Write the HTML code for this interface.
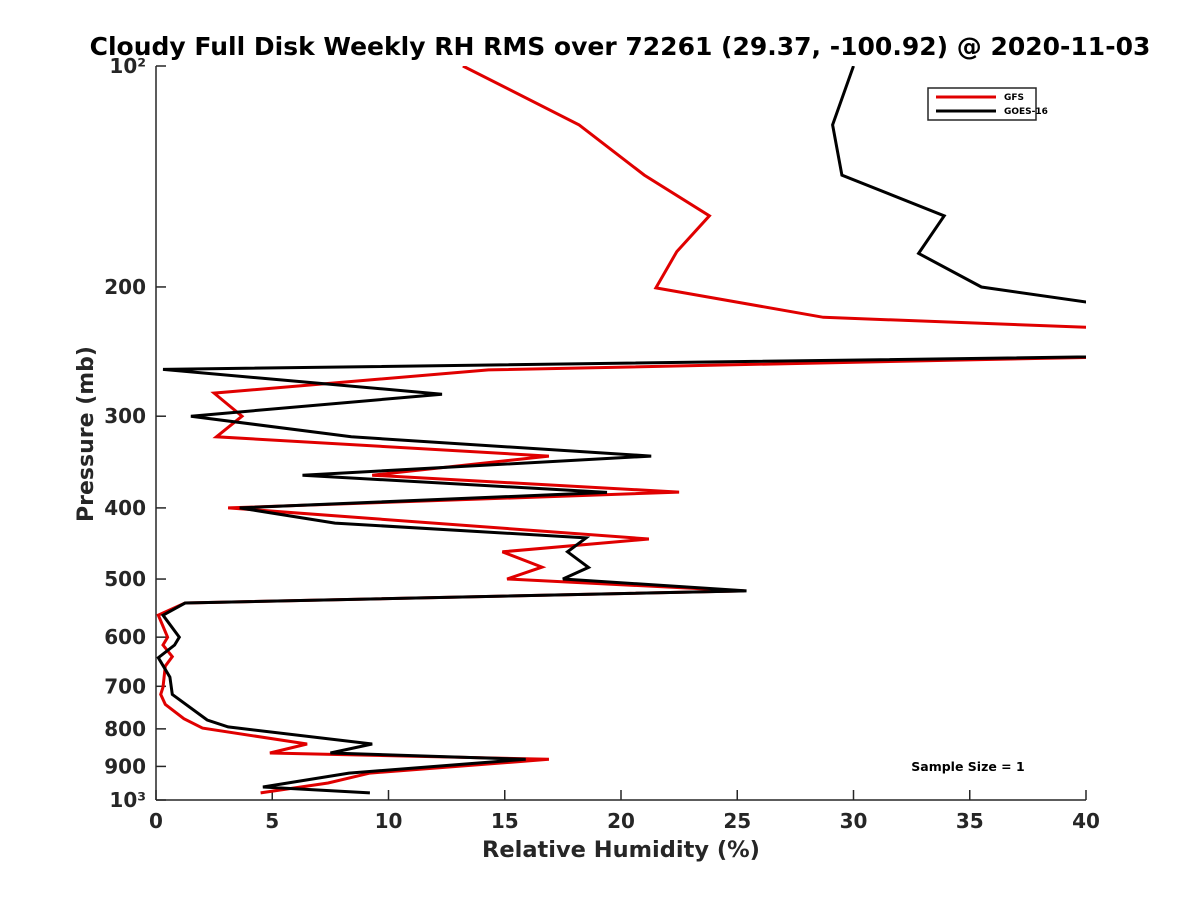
<!DOCTYPE html>
<html><head><meta charset="utf-8"><style>
body{margin:0;background:#fff}
svg text{font-family:"DejaVu Sans","Liberation Sans",sans-serif;font-weight:bold;fill:#262626}
</style></head><body>
<svg id="chart" width="1200" height="900" viewBox="0 0 1200 900" xmlns="http://www.w3.org/2000/svg">
<rect width="1200" height="900" fill="#fff"/>
<defs><clipPath id="plotclip"><rect x="156" y="66" width="930" height="734"/></clipPath></defs>
<text x="620" y="55" text-anchor="middle" font-size="25" style="fill:#000">Cloudy Full Disk Weekly RH RMS over 72261 (29.37, -100.92) @ 2020-11-03</text>
<g id="axes"></g>
<g id="series" clip-path="url(#plotclip)"></g>
<text x="621" y="857" text-anchor="middle" font-size="22.5">Relative Humidity (%)</text>
<text transform="translate(93,434) rotate(-90)" text-anchor="middle" font-size="22">Pressure (mb)</text>
<g>
<rect x="928" y="88" width="108" height="32" fill="#fff" stroke="#262626" stroke-width="1.5"/>
<line x1="936" y1="97" x2="996" y2="97" stroke="#e00000" stroke-width="3"/>
<text x="1004" y="100" font-size="9" style="fill:#000">GFS</text>
<line x1="936" y1="111" x2="996" y2="111" stroke="#000" stroke-width="3"/>
<text x="1004" y="114" font-size="9" style="fill:#000">GOES-16</text>
</g>
<text x="968" y="771" text-anchor="middle" font-size="12.5" style="fill:#000">Sample Size = 1</text>
</svg>
<script>
const xTicks=[0,5,10,15,20,25,30,35,40];
const yTicks=[100,200,300,400,500,600,700,800,900,1000];
const yTickLabels=["10²","200","300","400","500","600","700","800","900","10³"];
const gfsPressure=[100,120.3,140.8,160,179,200.6,220,241.2,259.4,279,300,320,340,361,380.6,400,441,459,481.6,500,519,539,559.8,600,615,638,657,702,718,741,775,798,839,863,880,919,948,978];
const gfsValues=[13.2,18.2,21.0,23.8,22.4,21.5,28.7,62.2,14.3,2.5,3.7,2.6,16.9,9.3,22.5,3.1,21.2,14.9,16.6,15.1,25.3,1.25,0.1,0.5,0.3,0.7,0.4,0.3,0.2,0.4,1.2,2.0,6.5,4.9,16.9,9.2,7.4,4.5];
const goesPressure=[100,120.3,140.8,160,180,200,245.4,259,280,300,320,340,361,381,400,419.5,439.5,459,482,500,519,539,560,600,615,640,680,718,778,795,839,863,880,919,960,978];
const goesValues=[30.0,29.1,29.5,33.9,32.8,35.5,55,0.3,12.3,1.5,8.4,21.3,6.3,19.4,3.6,7.7,18.5,17.7,18.6,17.5,25.4,1.25,0.3,1.0,0.8,0.1,0.6,0.7,2.2,3.1,9.3,7.5,15.9,8.3,4.6,9.2];
const X0=156,X1=1086,Y0=66,Y1=800;
const xs=v=>X0+(v-0)/(40-0)*(X1-X0);
const ys=p=>Y0+(Math.log10(p)-2)*(Y1-Y0);
const NS="http://www.w3.org/2000/svg";
const axes=document.getElementById('axes');
function mk(t,a,parent){const e=document.createElementNS(NS,t);for(const k in a)e.setAttribute(k,a[k]);parent.appendChild(e);return e;}
const xAxis=mk('line',{x1:X0,y1:Y1,x2:X1,y2:Y1,stroke:'#262626','stroke-width':1.5},axes);


const yAxis=mk('line',{x1:X0,y1:Y0,x2:X0,y2:Y1,stroke:'#262626','stroke-width':1.5},axes);


xTicks.forEach(v=>{
 const x=xs(v);
 mk('line',{x1:x,y1:Y1,x2:x,y2:Y1-10,stroke:'#262626','stroke-width':1.5},axes);
 const t=mk('text',{x:x,y:Y1+28,'text-anchor':'middle','font-size':20},axes);
 t.textContent=v;
 
 
});
yTicks.forEach((p,i)=>{
 const y=ys(p);
 mk('line',{x1:X0,y1:y,x2:X0+10,y2:y,stroke:'#262626','stroke-width':1.5},axes);
 const t=mk('text',{x:X0-10,y:y+7,'text-anchor':'end','font-size':20},axes);
 t.textContent=yTickLabels[i];
 
 
});
const ser=document.getElementById('series');
function line(P,V,color,name){
 const d=P.map((p,i)=>(i?'L':'M')+xs(V[i]).toFixed(1)+','+ys(p).toFixed(1)).join(' ');
 const e=mk('path',{d:d,fill:'none',stroke:color,'stroke-width':3,'stroke-linejoin':'miter'},ser);
 
 
}
line(gfsPressure,gfsValues,'#e00000','gfs-line');
line(goesPressure,goesValues,'#000000','goes16-line');
</script>
</body></html>
